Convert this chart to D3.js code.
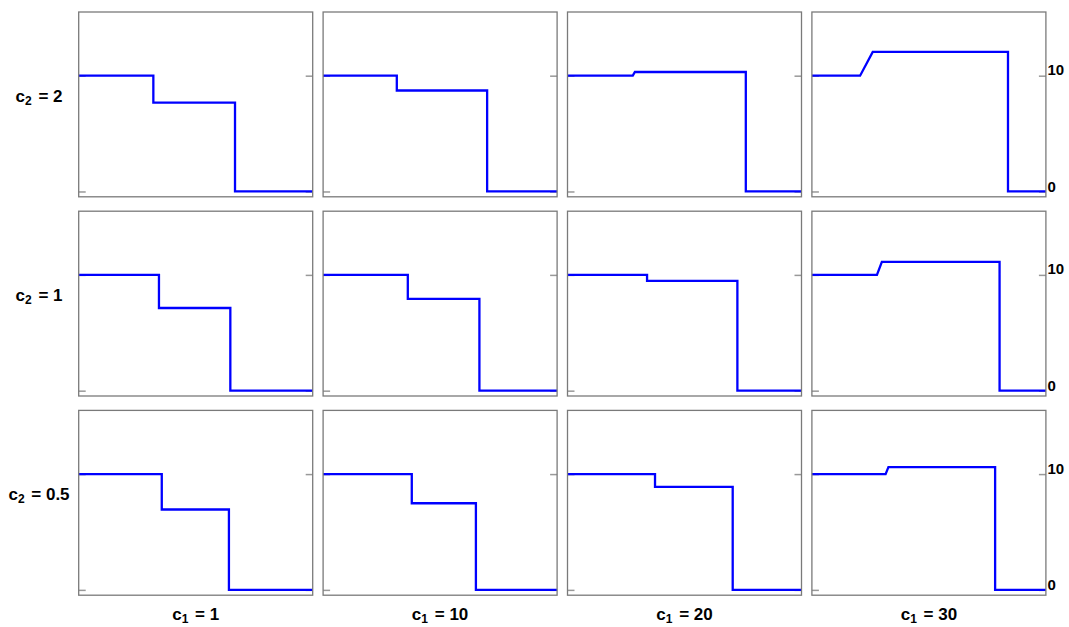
<!DOCTYPE html>
<html>
<head>
<meta charset="utf-8">
<script src="https://cdn.jsdelivr.net/npm/d3@7"></script>
<style>
  html, body { margin: 0; padding: 0; background: #fff; }
  svg { display: block; }
  text { font-family: "Liberation Sans", Arial, Helvetica, sans-serif; font-weight: bold; fill: #000; }
</style>
</head>
<body>
<svg id="chart" width="1069" height="627"></svg>
<script>
// ---- data (rows: c2 = 2, 1, 0.5 ; columns: c1 = 1, 10, 20, 30) ----
const c1Values = ["1", "10", "20", "30"];
const c2Values = ["2", "1", "0.5"];
const yTicks = [0, 10];
const startLevel = 10;
// time where the line leaves level 10
const rampStart = [
  [31.9, 31.5, 27.9, 20.6],
  [34.3, 36.2, 34.0, 27.8],
  [35.5, 37.9, 37.4, 31.5]
];
// time where the second level is reached
const rampEnd = [
  [31.9, 31.5, 28.8, 26.0],
  [34.3, 36.2, 34.0, 29.9],
  [35.5, 37.9, 37.4, 32.7]
];
// second level value
const level2 = [
  [7.68, 8.72, 10.32, 12.05],
  [7.14, 7.92, 9.48, 11.13],
  [6.94, 7.48, 8.89, 10.6]
];
// time of drop to zero
const dropTime = [
  [66.8, 70.1, 76.2, 83.8],
  [64.8, 66.8, 72.6, 80.2],
  [64.2, 65.3, 70.6, 78.3]
];
const xDomain = [0, 100];
const yDomain = [-0.46, 15.5];

// ---- layout ----
const svg = d3.select("#chart");
const panelW = 234, panelH = 184.8;
const col0 = 78.7, colStep = 244.4;
const row0 = 12, rowStep = 199.2;

const x = d3.scaleLinear().domain(xDomain).range([0, panelW]);
const y = d3.scaleLinear().domain(yDomain).range([panelH, 0]);
const line = d3.line().x(d => x(d[0])).y(d => y(d[1]));

c2Values.forEach((c2, r) => {
  c1Values.forEach((c1, c) => {
    const g = svg.append("g")
      .attr("transform", `translate(${col0 + c * colStep},${row0 + r * rowStep})`);

    // ticks (inward, left and right)
    const tickLeft = d3.axisRight(y).tickValues(yTicks).tickSize(7).tickFormat("");
    const tickRight = d3.axisLeft(y).tickValues(yTicks).tickSize(7).tickFormat("");
    g.append("g").call(tickLeft).call(a => a.select(".domain").remove())
      .selectAll("line").attr("stroke", "#999").attr("stroke-width", 1.5);
    const gr = g.append("g").attr("transform", `translate(${panelW},0)`).call(tickRight);
    gr.select(".domain").remove();
    gr.selectAll("line").attr("stroke", "#999").attr("stroke-width", 1.5);

    // data line
    const pts = [
      [xDomain[0], startLevel],
      [rampStart[r][c], startLevel],
      [rampEnd[r][c], level2[r][c]],
      [dropTime[r][c], level2[r][c]],
      [dropTime[r][c], 0],
      [xDomain[1], 0]
    ];
    g.append("path").datum(pts)
      .attr("d", line)
      .attr("fill", "none")
      .attr("stroke", "#0000ff")
      .attr("stroke-width", 2.3)
      .attr("stroke-linejoin", "miter");

    // frame
    g.append("rect")
      .attr("x", 0).attr("y", 0)
      .attr("width", panelW).attr("height", panelH)
      .attr("fill", "none")
      .attr("stroke", "#7a7a7a")
      .attr("stroke-width", 1.3);

    // right-side labels on last column
    if (c === c1Values.length - 1) {
      yTicks.forEach(t => {
        g.append("text")
          .attr("x", panelW + 1.5)
          .attr("y", y(t) + (t === 0 ? 0.5 : -0.5))
          .attr("font-size", 15)
          .text(t);
      });
    }
  });

  // row label
  const t = svg.append("text")
    .attr("x", 39)
    .attr("y", row0 + r * rowStep + panelH / 2 - 2.5)
    .attr("text-anchor", "middle")
    .attr("font-size", 17);
  t.append("tspan").text("c");
  t.append("tspan").attr("font-size", 12).attr("dy", 3).text("2");
  t.append("tspan").attr("dy", -3).attr("dx", 2).text(" = " + c2);
});

// column labels
c1Values.forEach((c1, c) => {
  const t = svg.append("text")
    .attr("x", col0 + c * colStep + panelW / 2)
    .attr("y", 620)
    .attr("text-anchor", "middle")
    .attr("font-size", 17);
  t.append("tspan").text("c");
  t.append("tspan").attr("font-size", 12).attr("dy", 3).text("1");
  t.append("tspan").attr("dy", -3).attr("dx", 2).text(" = " + c1);
});
</script>
</body>
</html>
